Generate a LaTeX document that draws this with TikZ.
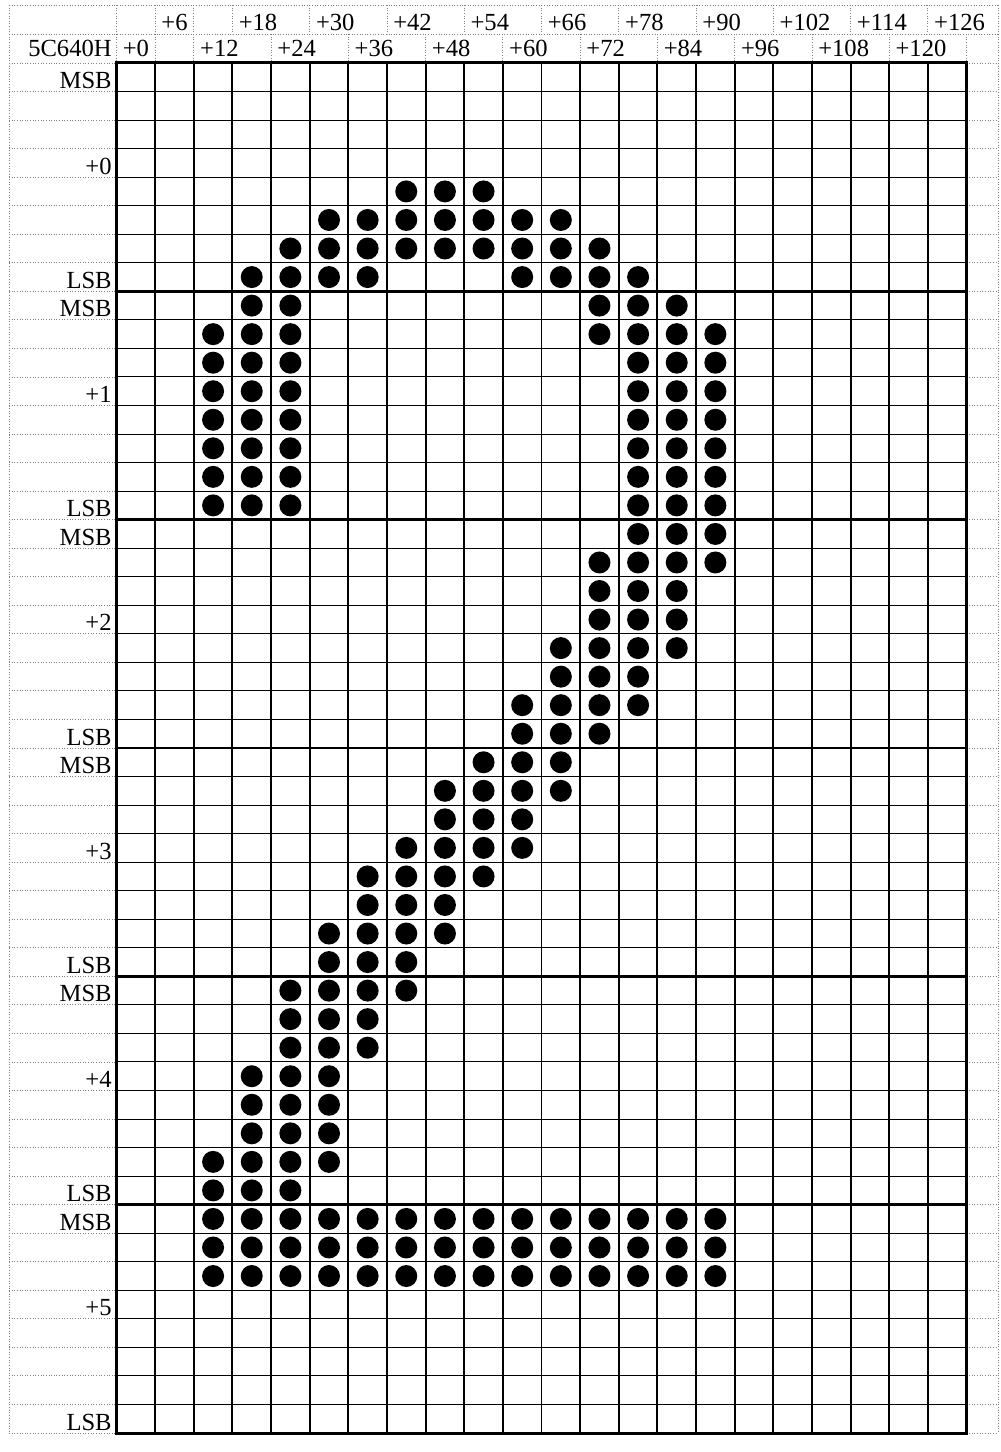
\documentclass[tikz,border=0pt]{standalone}
\usepackage{fontspec}
\setmainfont{Liberation Serif}
\usepackage{tikz}

\begin{document}
\begin{tikzpicture}[x=0.02cm, y=-0.02cm,
		margin/.style={gray, densely dotted, line width=0.5pt},
		cellline/.style={black, line width=0.6pt},
		colline/.style={black, line width=1.1pt},
		byteline/.style={black, line width=1.4pt},
		frame/.style={black, line width=1.7pt},
		lbl/.style={inner sep=0pt, font=\fontsize{14}{16}\selectfont},
		bit/.style={fill=black}]
		\useasboundingbox (0,0) rectangle (1000,1452);
		\pgfmathsetmacro{\cw}{850/22}
		\pgfmathsetmacro{\rh}{1370/48}

		\foreach \r in {0,...,48} {
			\draw[margin] (9,{63+\r*\rh}) -- (116.5,{63+\r*\rh});
			\draw[margin] (966.5,{63+\r*\rh}) -- (998,{63+\r*\rh});
		}
		\draw[margin] (9,5) -- (998,5);
		\draw[margin] (9,34) -- (998,34);
		\draw[margin] (9,5) -- (9,1433);
		\draw[margin] (998,5) -- (998,1433);
		\foreach \c in {0,1,2,3,5,7,...,21}
			\draw[margin] ({116.5+\c*\cw},5) -- ({116.5+\c*\cw},34);
		\foreach \c in {0,1,2,4,...,22}
			\draw[margin] ({116.5+\c*\cw},34) -- ({116.5+\c*\cw},63);

		\foreach \r in {1,...,47}
			\draw[cellline] (116.5,{63+\r*\rh}) -- (966.5,{63+\r*\rh});
		\foreach \r in {8,16,...,40}
			\draw[byteline] (116.5,{63+\r*\rh}) -- (966.5,{63+\r*\rh});
		\foreach \c in {1,...,21}
			\draw[colline] ({116.5+\c*\cw},63) -- ({116.5+\c*\cw},1433);
		\draw[frame] (116.5,63) rectangle (966.5,1433);

		\foreach \r/\cs in {4/{7,8,9}, 5/{5,...,11}, 6/{4,...,12}, 7/{3,4,5,6,10,11,12,13},
				8/{3,4,12,13,14}, 9/{2,3,4,12,13,14,15}, 10/{2,3,4,13,14,15}, 11/{2,3,4,13,14,15},
				12/{2,3,4,13,14,15}, 13/{2,3,4,13,14,15}, 14/{2,3,4,13,14,15}, 15/{2,3,4,13,14,15},
				16/{13,14,15}, 17/{12,...,15}, 18/{12,13,14}, 19/{12,13,14}, 20/{11,...,14},
				21/{11,12,13}, 22/{10,...,13}, 23/{10,11,12}, 24/{9,10,11}, 25/{8,...,11},
				26/{8,9,10}, 27/{7,...,10}, 28/{6,...,9}, 29/{6,7,8}, 30/{5,...,8}, 31/{5,6,7},
				32/{4,...,7}, 33/{4,5,6}, 34/{4,5,6}, 35/{3,4,5}, 36/{3,4,5}, 37/{3,4,5},
				38/{2,...,5}, 39/{2,3,4}, 40/{2,...,15}, 41/{2,...,15}, 42/{2,...,15}}
			\foreach \c in \cs
				\fill[bit] ({116.5+(\c+0.5)*\cw},{63+(\r+0.5)*\rh}) circle (11);

		\node[lbl, anchor=base east] (addr) at (112,57) {5C640H};
		\foreach \b in {0,...,5} {
			\node[lbl, anchor=base east] (msb\b) at (112,{63+(8*\b+1)*\rh-3}) {MSB};
			\node[lbl, anchor=base east] (byte\b) at (112,{63+(8*\b+4)*\rh-3}) {+\b};
			\node[lbl, anchor=base east] (lsb\b) at (112,{63+(8*\b+8)*\rh-3}) {LSB};
		}
		\foreach \c in {0,2,...,20} {
			\pgfmathtruncatemacro{\v}{6*\c}
			\node[lbl, anchor=base west] (col\v) at ({122.5+\c*\cw},57) {+\v};
		}
		\foreach \c in {1,3,...,21} {
			\pgfmathtruncatemacro{\v}{6*\c}
			\node[lbl, anchor=base west] (col\v) at ({122.5+\c*\cw},31) {+\v};
		}
	\end{tikzpicture}
\end{document}
